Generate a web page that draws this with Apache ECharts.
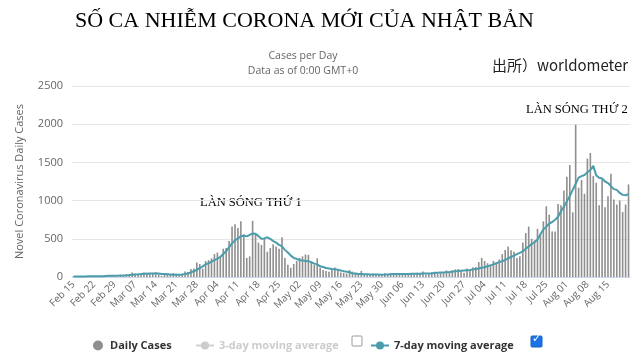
<!DOCTYPE html>
<html>
<head>
<meta charset="utf-8">
<script src="https://cdn.jsdelivr.net/npm/echarts@6/dist/echarts.min.js"></script>
<style>html,body{margin:0;padding:0;background:#fff;}#chart{width:640px;height:360px;}</style>
</head>
<body>
<div id="chart"></div>
<script>
const dates = [
'Feb 15','Feb 16','Feb 17','Feb 18','Feb 19','Feb 20','Feb 21','Feb 22','Feb 23','Feb 24','Feb 25','Feb 26','Feb 27','Feb 28','Feb 29',
'Mar 01','Mar 02','Mar 03','Mar 04','Mar 05','Mar 06','Mar 07','Mar 08','Mar 09','Mar 10','Mar 11','Mar 12','Mar 13','Mar 14','Mar 15','Mar 16','Mar 17','Mar 18','Mar 19','Mar 20','Mar 21','Mar 22','Mar 23','Mar 24','Mar 25','Mar 26','Mar 27','Mar 28','Mar 29','Mar 30','Mar 31',
'Apr 01','Apr 02','Apr 03','Apr 04','Apr 05','Apr 06','Apr 07','Apr 08','Apr 09','Apr 10','Apr 11','Apr 12','Apr 13','Apr 14','Apr 15','Apr 16','Apr 17','Apr 18','Apr 19','Apr 20','Apr 21','Apr 22','Apr 23','Apr 24','Apr 25','Apr 26','Apr 27','Apr 28','Apr 29','Apr 30',
'May 01','May 02','May 03','May 04','May 05','May 06','May 07','May 08','May 09','May 10','May 11','May 12','May 13','May 14','May 15','May 16','May 17','May 18','May 19','May 20','May 21','May 22','May 23','May 24','May 25','May 26','May 27','May 28','May 29','May 30','May 31',
'Jun 01','Jun 02','Jun 03','Jun 04','Jun 05','Jun 06','Jun 07','Jun 08','Jun 09','Jun 10','Jun 11','Jun 12','Jun 13','Jun 14','Jun 15','Jun 16','Jun 17','Jun 18','Jun 19','Jun 20','Jun 21','Jun 22','Jun 23','Jun 24','Jun 25','Jun 26','Jun 27','Jun 28','Jun 29','Jun 30',
'Jul 01','Jul 02','Jul 03','Jul 04','Jul 05','Jul 06','Jul 07','Jul 08','Jul 09','Jul 10','Jul 11','Jul 12','Jul 13','Jul 14','Jul 15','Jul 16','Jul 17','Jul 18','Jul 19','Jul 20','Jul 21','Jul 22','Jul 23','Jul 24','Jul 25','Jul 26','Jul 27','Jul 28','Jul 29','Jul 30','Jul 31',
'Aug 01','Aug 02','Aug 03','Aug 04','Aug 05','Aug 06','Aug 07','Aug 08','Aug 09','Aug 10','Aug 11','Aug 12','Aug 13','Aug 14','Aug 15','Aug 16','Aug 17','Aug 18','Aug 19','Aug 20','Aug 21','Aug 22'
];

const dailyFeb = [8,6,6,8,3,11,9,12,12,12,16,21,25,24,14];
const dailyMar = [15,16,18,33,33,59,47,33,26,59,54,52,55,64,35,15,39,44,39,53,43,35,38,71,65,105,110,190,170,110,210];
const dailyApr = [220,245,300,320,250,370,380,470,660,690,640,730,560,250,270,735,560,450,420,510,330,380,430,400,370,520,250,160,120,170];
const dailyMay = [210,250,270,295,290,200,160,245,120,92,80,70,105,123,80,60,55,45,90,70,55,40,79,35,30,25,45,40,30,20,50];
const dailyJun = [37,51,45,35,42,28,40,38,46,41,55,47,72,30,45,60,70,41,55,59,86,68,90,100,105,75,55,110,90,127];
const dailyJul = [130,195,250,210,180,160,210,190,230,300,355,400,350,330,250,270,450,575,660,500,480,630,555,729,926,816,597,597,957,940,1133];
const dailyAug = [1313,1466,847,1993,1168,1269,1089,1550,1624,1321,1234,940,1278,913,1058,1352,1014,948,1001,852,948,1212];

const avgFeb = [8,8,8,8,8,9,9,9,10,10,11,13,15,16,17];
const avgMar = [18,19,20,22,25,30,33,35,38,42,44,45,46,47,46,40,38,36,34,30,28,30,33,38,45,62,75,95,115,140,165];
const avgApr = [180,200,222,240,262,300,340,390,440,480,505,535,540,532,550,570,565,535,500,505,520,500,470,450,420,400,355,320,280,250];
const avgMay = [235,222,215,210,205,195,175,165,140,130,118,112,105,100,95,85,77,70,62,50,45,40,38,36,35,34,33,33,32,31,32];
const avgJun = [34,36,38,40,40,39,38,40,42,44,43,42,45,46,46,48,52,56,58,60,63,66,70,74,78,83,86,89,92,98];
const avgJul = [105,112,122,128,140,152,166,180,195,205,225,245,262,280,300,315,335,370,400,430,455,490,560,620,660,700,720,750,790,860,920];
const avgAug = [990,1060,1140,1220,1300,1320,1335,1370,1400,1455,1330,1300,1290,1250,1230,1190,1150,1140,1100,1075,1070,1085];

const yTicks = [0,500,1000,1500,2000,2500];
const lastLabelIndex = 182; // "Aug 15" is the last tick label shown

const dailyCases = [].concat(dailyFeb, dailyMar, dailyApr, dailyMay, dailyJun, dailyJul, dailyAug);
const avg7 = [].concat(avgFeb, avgMar, avgApr, avgMay, avgJun, avgJul, avgAug);

const chart = echarts.init(document.getElementById('chart'), null, {renderer: 'canvas'});
const legendText = {fontFamily: 'Open Sans', fontSize: 11, fontWeight: 'bold', color: '#333'};
chart.setOption({
  animation: false,
  backgroundColor: '#fff',
  title: [
    {text: 'Cases per Day\nData as of 0:00 GMT+0', left: 298, top: 44, textAlign: 'center',
     textStyle: {fontFamily: 'Open Sans', fontSize: 10.5, fontWeight: 'normal', color: '#666', lineHeight: 15}}
  ],
  graphic: [
    {type: 'text', x: 75, y: 10, style: {text: 'SỐ CA NHIỄM CORONA MỚI CỦA NHẬT BẢN', font: '22px "Liberation Serif"', fill: '#000'}},
    {type: 'text', left: 492, top: 58, style: {text: '出所）worldometer', font: '15px "Noto Sans CJK JP"', fill: '#222'}},
    {type: 'text', left: 200, top: 196, style: {text: 'LÀN SÓNG THỨ 1', font: '12.5px "Liberation Serif"', fill: '#000'}},
    {type: 'text', left: 526, top: 103, style: {text: 'LÀN SÓNG THỨ 2', font: '12.5px "Liberation Serif"', fill: '#000'}},
    {type: 'rect', shape: {x: 352, y: 336, width: 10, height: 10, r: 1}, style: {fill: '#fff', stroke: '#999', lineWidth: 1}},
    {type: 'rect', shape: {x: 531, y: 336, width: 11, height: 11, r: 1}, style: {fill: '#1a73e8', stroke: '#1565c0', lineWidth: 1}},
    {type: 'text', left: 532, top: 334, style: {text: '✓', font: 'bold 11px "DejaVu Sans"', fill: '#fff'}}
  ],
  legend: [
    {left: 88, top: 335, itemWidth: 14, itemHeight: 10, data: [{name: 'Daily Cases', icon: 'circle'}], textStyle: legendText},
    {left: 190, top: 335, itemWidth: 18, itemHeight: 10, data: ['3-day moving average'], textStyle: legendText, inactiveColor: '#ccc',
     selected: {'3-day moving average': false}},
    {left: 365, top: 335, itemWidth: 18, itemHeight: 10, data: ['7-day moving average'], textStyle: legendText}
  ],
  grid: {left: 72, right: 10, top: 86, bottom: 83},
  xAxis: {
    type: 'category',
    data: dates,
    boundaryGap: true,
    axisLine: {lineStyle: {color: '#ccd6eb'}},
    axisTick: {show: false},
    axisLabel: {interval: function (i) { return i % 7 === 0 && i <= lastLabelIndex; },
      rotate: 45, fontFamily: 'Open Sans', fontSize: 10, color: '#666', margin: 6}
  },
  yAxis: {
    type: 'value',
    min: yTicks[0], max: yTicks[yTicks.length - 1], interval: 500,
    name: 'Novel Coronavirus Daily Cases',
    nameLocation: 'middle', nameGap: 47,
    nameTextStyle: {fontFamily: 'Open Sans', fontSize: 11, color: '#666'},
    axisLabel: {fontFamily: 'Open Sans', fontSize: 11, color: '#666', margin: 9, formatter: function (v) { return String(v); }},
    splitLine: {lineStyle: {color: '#e6e6e6'}},
    axisLine: {show: false}, axisTick: {show: false}
  },
  series: [
    {name: 'Daily Cases', type: 'bar', data: dailyCases, barWidth: '55%',
     itemStyle: {color: '#8f8f8f'}},
    {name: '3-day moving average', type: 'line', data: [], symbol: 'circle',
     itemStyle: {color: '#999'}, lineStyle: {color: '#999'}},
    {name: '7-day moving average', type: 'line', data: avg7, symbol: 'circle', symbolSize: 5, showSymbol: false,
     itemStyle: {color: '#4b9cac'}, lineStyle: {color: '#4b9cac', width: 2}}
  ]
});
</script>
</body>
</html>
